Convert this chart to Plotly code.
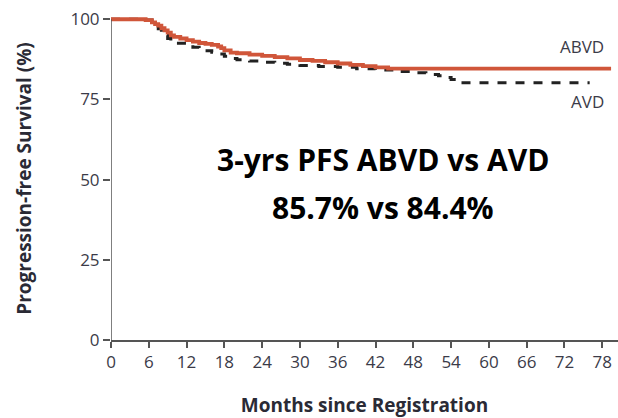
import plotly.graph_objects as go

abvd_t = [0, 5.5, 6.5, 7, 7.5, 8, 8.5, 9, 9.5, 10, 11, 12, 13, 14, 15, 16, 17, 17.5, 18, 19, 20, 22, 24, 26, 28, 30, 32, 34, 36, 38, 40, 42, 44, 79.4]
abvd_s = [100, 99.7, 99, 98.5, 98, 97.2, 96.5, 95.8, 95, 94.5, 94, 93.5, 93, 92.6, 92.3, 92, 91.5, 91, 90.3, 89.6, 89.4, 89, 88.6, 88.2, 87.8, 87.3, 87, 86.6, 86.2, 85.8, 85.4, 85, 84.6, 84.6]

avd_t = [0, 5, 6.5, 7, 7.5, 8, 8.5, 9, 9.5, 10, 12, 13, 14, 15, 16, 17, 18, 19, 20, 22, 24, 26, 28, 30, 33, 36, 39, 42, 45, 48, 50, 52, 53, 54, 55, 76]
avd_s = [100, 99.8, 99, 98, 97, 96, 95, 94, 93, 92.5, 92, 91.3, 90.7, 90.2, 89.7, 89.2, 88.5, 87.8, 87.4, 87, 86.6, 86.3, 86, 85.6, 85.3, 85, 84.6, 84.2, 83.7, 83.3, 82.8, 82.4, 81.8, 81.2, 80.2, 80.2]

x_ticks = [0, 6, 12, 18, 24, 30, 36, 42, 48, 54, 60, 66, 72, 78]
y_ticks = [0, 25, 50, 75, 100]

tick_color = "#3b3b48"
font_family = "Open Sans, Noto Sans, sans-serif"

fig = go.Figure()
fig.add_trace(go.Scatter(x=avd_t, y=avd_s, mode="lines", line_shape="hv",
                         line=dict(color="#222222", width=3, dash="dash"), showlegend=False))
fig.add_trace(go.Scatter(x=abvd_t, y=abvd_s, mode="lines", line_shape="hv",
                         line=dict(color="#d0563a", width=3.8), showlegend=False))

fig.add_shape(type="line", xref="x", yref="y", x0=0, x1=0, y0=0, y1=100,
              line=dict(color="#555555", width=1.5))

fig.add_annotation(x=78.6, y=91.5, xref="x", yref="y", text="ABVD", showarrow=False,
                   xanchor="right", font=dict(size=17, color=tick_color, family=font_family))
fig.add_annotation(x=78.6, y=74.5, xref="x", yref="y", text="AVD", showarrow=False,
                   xanchor="right", font=dict(size=17, color=tick_color, family=font_family))
fig.add_annotation(x=0.537, y=56.3, xref="paper", yref="y",
                   text="<b>3-yrs PFS ABVD vs AVD</b>",
                   showarrow=False, align="center", yanchor="middle",
                   font=dict(size=30, color="#000000", family="Open Sans, sans-serif"))
fig.add_annotation(x=0.537, y=41.3, xref="paper", yref="y",
                   text="<b>85.7% vs 84.4%</b>",
                   showarrow=False, align="center", yanchor="middle",
                   font=dict(size=30, color="#000000", family="Open Sans, sans-serif"))

fig.update_layout(
    width=618, height=418,
    margin=dict(l=111, r=0, t=17, b=78),
    plot_bgcolor="white", paper_bgcolor="white",
    xaxis=dict(range=[0, 80.5], tickvals=x_ticks, ticks="outside", ticklen=6, tickwidth=1.5,
               tickcolor="#555555", showline=True, linecolor="#555555", linewidth=1.5,
               showgrid=False, zeroline=False,
               tickfont=dict(size=17, color=tick_color, family=font_family),
               title=dict(text="<b>Months since Registration</b>", standoff=28,
                          font=dict(size=19, color="#2a2a35", family=font_family))),
    yaxis=dict(range=[0, 100.7], tickvals=y_ticks, ticks="outside", ticklen=7, tickwidth=1.5,
               tickcolor="#555555", showline=False, showgrid=False, zeroline=False,
               tickfont=dict(size=17, color=tick_color, family=font_family),
               title=dict(text="<b>Progression-free Survival (%)</b>", standoff=33,
                          font=dict(size=19, color="#2a2a35", family=font_family))),
)

fig.write_html("out.html")
